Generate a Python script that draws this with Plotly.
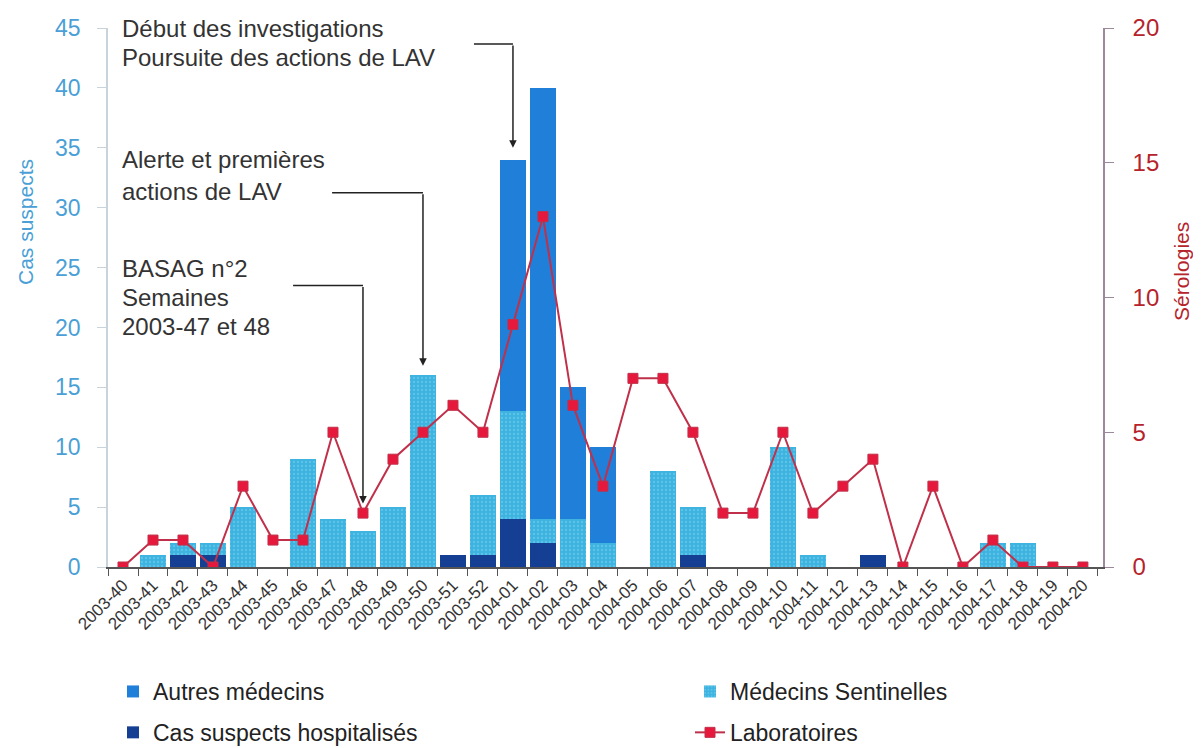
import plotly.graph_objects as go

weeks = ["2003-40", "2003-41", "2003-42", "2003-43", "2003-44", "2003-45", "2003-46",
         "2003-47", "2003-48", "2003-49", "2003-50", "2003-51", "2003-52",
         "2004-01", "2004-02", "2004-03", "2004-04", "2004-05", "2004-06", "2004-07",
         "2004-08", "2004-09", "2004-10", "2004-11", "2004-12", "2004-13", "2004-14",
         "2004-15", "2004-16", "2004-17", "2004-18", "2004-19", "2004-20"]

hospitalises = [0, 0, 1, 1, 0, 0, 0, 0, 0, 0, 0, 1, 1, 4, 2, 0, 0, 0, 0, 1, 0, 0, 0, 0, 0, 1, 0, 0, 0, 0, 0, 0, 0]
sentinelles = [0, 1, 1, 1, 5, 0, 9, 4, 3, 5, 16, 0, 5, 9, 2, 4, 2, 0, 8, 4, 0, 0, 10, 1, 0, 0, 0, 0, 0, 2, 2, 0, 0]
autres = [0, 0, 0, 0, 0, 0, 0, 0, 0, 0, 0, 0, 0, 21, 36, 11, 8, 0, 0, 0, 0, 0, 0, 0, 0, 0, 0, 0, 0, 0, 0, 0, 0]
laboratoires = [0, 1, 1, 0, 3, 1, 1, 5, 2, 4, 5, 6, 5, 9, 13, 6, 3, 7, 7, 5, 2, 2, 5, 2, 3, 4, 0, 3, 0, 1, 0, 0, 0]

left_ticks = [0, 5, 10, 15, 20, 25, 30, 35, 40, 45]
right_ticks = [0, 5, 10, 15, 20]

FONT = "Liberation Sans, Arial, sans-serif"
C_AUTRES = "#1f7fd9"
C_SENT = "#3db3e0"
C_HOSP = "#143f93"
C_LINE = "#c0304a"
C_MARK = "#e6193c"
C_LEFT = "#4a9fd6"
C_RIGHT = "#b5232b"

W, H = 1201, 748
OFF = 8  # page body margin around the plot div

fig = go.Figure()
fig.add_trace(go.Bar(x=weeks, y=hospitalises, name="Cas suspects hospitalisés",
                     marker=dict(color=C_HOSP, line=dict(width=0)), legend="legend",
                     legendgroup="g_hosp", legendrank=2))
fig.add_trace(go.Bar(x=weeks, y=sentinelles, name="Médecins Sentinelles",
                     marker=dict(color=C_SENT, line=dict(width=0),
                                 pattern=dict(shape=".", fgcolor="#86d2f0", size=4, solidity=0.25)),
                     legend="legend2", legendgroup="g_sent", legendrank=1))
fig.add_trace(go.Bar(x=weeks, y=autres, name="Autres médecins",
                     marker=dict(color=C_AUTRES, line=dict(width=0)), legend="legend",
                     legendgroup="g_autres", legendrank=1))
fig.add_trace(go.Scatter(x=weeks, y=laboratoires, name="Laboratoires", yaxis="y2",
                         mode="lines+markers", line=dict(color=C_LINE, width=2),
                         marker=dict(symbol="square", size=10, color=C_MARK,
                                     line=dict(color=C_LINE, width=1)),
                         legend="legend2", legendgroup="g_labo", legendrank=2))

# plot area in page pixels: x 108..1103, y 28..567
fig.update_layout(
    width=W, height=H,
    margin=dict(l=108 - OFF, r=W - (1103 - OFF), t=28 - OFF, b=H - (567 - OFF), autoexpand=False),
    paper_bgcolor="white", plot_bgcolor="white",
    barmode="stack", bargap=0.14,
    font=dict(family=FONT, size=18, color="#333333"),
    xaxis=dict(type="category", range=[-0.5, 32.67], tickson="boundaries",
               tickmode="linear", dtick=1,
               ticks="outside", ticklen=7, tickcolor="#555555",
               showline=True, linecolor="#555555", linewidth=1.5,
               tickangle=-45, tickfont=dict(size=17, color="#333333"),
               showgrid=False, zeroline=False),
    yaxis=dict(range=[0, 45], tickvals=left_ticks, showgrid=False, zeroline=False,
               showline=True, linecolor="#c9d3dc", linewidth=1.5,
               ticks="outside", ticklen=9, tickcolor="#c9d3dc",
               tickfont=dict(size=23, color=C_LEFT), ticklabelstandoff=12),
    yaxis2=dict(range=[0, 20], tickvals=right_ticks, overlaying="y", side="right",
                showgrid=False, zeroline=False, showline=True,
                linecolor="#9c8a9c", linewidth=1.5, ticks="outside", ticklen=9,
                tickcolor="#9c8a9c", tickfont=dict(size=24, color=C_RIGHT),
                ticklabelstandoff=14),
    legend=dict(xref="container", yref="container", x=(113 - OFF) / W, y=1 - (670 - OFF) / H,
                xanchor="left", yanchor="top", font=dict(size=23, color="#222222"),
                traceorder="grouped", tracegroupgap=8, bgcolor="rgba(0,0,0,0)"),
    legend2=dict(xref="container", yref="container", x=(690 - OFF) / W, y=1 - (670 - OFF) / H,
                 xanchor="left", yanchor="top", font=dict(size=23, color="#222222"),
                 traceorder="grouped", tracegroupgap=8, bgcolor="rgba(0,0,0,0)"),
)


def py_to_paper(py):
    return (567 - py) / 539


def px_to_paper(px):
    return (px - 108) / 995


# axis titles
fig.add_annotation(text="Cas suspects", xref="paper", yref="paper", x=px_to_paper(26),
                   y=py_to_paper(222), textangle=-90, showarrow=False,
                   xanchor="center", yanchor="middle", font=dict(size=21, color=C_LEFT))
fig.add_annotation(text="Sérologies", xref="paper", yref="paper", x=px_to_paper(1181),
                   y=py_to_paper(272), textangle=-90, showarrow=False,
                   xanchor="center", yanchor="middle", font=dict(size=21, color=C_RIGHT))

text_lines = [
    ("Début des investigations", 28),
    ("Poursuite des actions de LAV", 57),
    ("Alerte et premières", 159),
    ("actions de LAV", 191),
    ("BASAG n°2", 268),
    ("Semaines", 297),
    ("2003-47 et 48", 326),
]
for t, cy in text_lines:
    fig.add_annotation(text=t, xref="paper", yref="paper", x=px_to_paper(120), y=py_to_paper(cy),
                       xanchor="left", yanchor="middle", align="left", showarrow=False,
                       font=dict(size=24, color="#333333"))

# elbow connectors: (x start, y level, x end, tip y) in axis units
connectors = [
    (11.7, 43.67, 13, 35.0),
    (6.97, 31.25, 10, 16.8),
    (5.67, 23.5, 8, 5.3),
]
for x0, yl, x1, ytip in connectors:
    fig.add_shape(type="line", xref="x", yref="y", x0=x0, y0=yl, x1=x1, y1=yl,
                  line=dict(color="#222222", width=1.5))
    fig.add_annotation(xref="x", yref="y", axref="x", ayref="y", x=x1, y=ytip, ax=x1, ay=yl,
                       text="", showarrow=True, arrowhead=2, arrowsize=1, arrowwidth=1.5,
                       arrowcolor="#222222")

fig.write_html("out.html")
